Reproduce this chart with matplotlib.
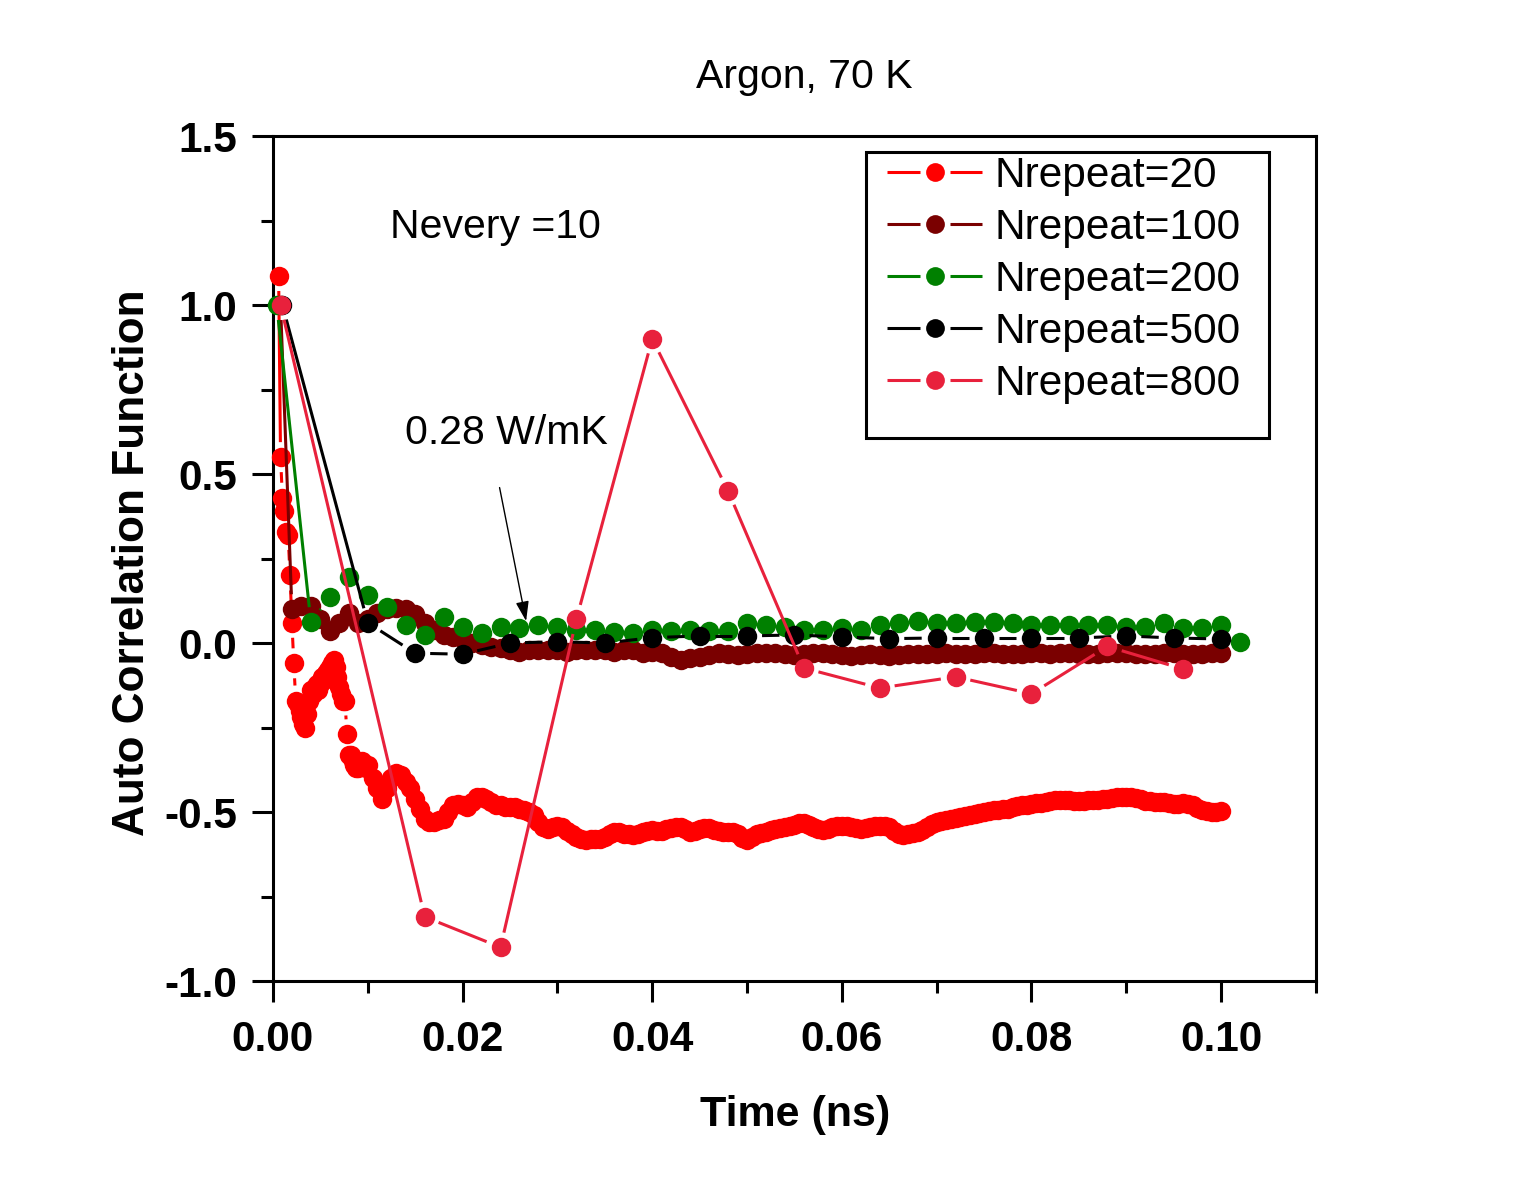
import numpy as np
import matplotlib
matplotlib.use("Agg")
import matplotlib.pyplot as plt
from matplotlib.lines import Line2D
from matplotlib.collections import LineCollection
from matplotlib.patches import Rectangle
from matplotlib.legend_handler import HandlerBase
from matplotlib.ticker import MultipleLocator, FormatStrFormatter

plt.rcParams['font.family'] = ['Liberation Sans', 'DejaVu Sans']
plt.rcParams['axes.unicode_minus'] = False

# ---------------- data ----------------
labels = ["Nrepeat=20", "Nrepeat=100", "Nrepeat=200", "Nrepeat=500", "Nrepeat=800"]
colors = ["#FF0000", "#7A0000", "#008000", "#000000", "#E8213C"]

# Nrepeat=20 : early part (fine sampling)
t20_early = [0.0006, 0.0008, 0.0010, 0.0012, 0.0014, 0.0016, 0.0018, 0.0020, 0.0022, 0.0024,
             0.0026, 0.0028, 0.0030, 0.0032, 0.0034, 0.0036, 0.0038, 0.0040, 0.0042, 0.0044,
             0.0046, 0.0048, 0.0050, 0.0052, 0.0054, 0.0056, 0.0058, 0.0060, 0.0062, 0.0064,
             0.0066, 0.0068, 0.0070, 0.0072, 0.0074, 0.0076, 0.0078, 0.0080, 0.0082, 0.0084,
             0.0086, 0.0088, 0.0090, 0.0092, 0.0094, 0.0096, 0.0098]
y20_early = [1.086, 0.55, 0.43, 0.39, 0.33, 0.32, 0.20, 0.06, -0.06, -0.17,
             -0.18, -0.20, -0.22, -0.24, -0.25, -0.21, -0.17, -0.14, -0.15, -0.13,
             -0.12, -0.14, -0.12, -0.10, -0.11, -0.09, -0.08, -0.07, -0.06, -0.05,
             -0.07, -0.10, -0.13, -0.15, -0.17, -0.17, -0.27, -0.33, -0.33, -0.35,
             -0.36, -0.37, -0.37, -0.36, -0.35, -0.36, -0.37]
# Nrepeat=20 : from 0.0100 ns, every 0.0005 ns
y20_late = [-0.36, -0.40, -0.43, -0.46, -0.43, -0.40, -0.385, -0.39, -0.41, -0.43,
            -0.46, -0.49, -0.52, -0.53, -0.53, -0.525, -0.52, -0.50, -0.48, -0.475,
            -0.48, -0.485, -0.47, -0.455, -0.455, -0.46, -0.47, -0.48, -0.48, -0.485,
            -0.485, -0.485, -0.49, -0.495, -0.50, -0.51, -0.53, -0.545, -0.55, -0.545,
            -0.54, -0.545, -0.555, -0.565, -0.575, -0.58, -0.583, -0.58, -0.58, -0.58,
            -0.575, -0.565, -0.56, -0.56, -0.565, -0.565, -0.568, -0.565, -0.56, -0.555,
            -0.553, -0.555, -0.556, -0.55, -0.546, -0.544, -0.544, -0.55, -0.558, -0.556,
            -0.55, -0.548, -0.548, -0.552, -0.556, -0.558, -0.56, -0.56, -0.565, -0.578,
            -0.583, -0.575, -0.565, -0.562, -0.558, -0.553, -0.55, -0.548, -0.543, -0.54,
            -0.537, -0.533, -0.533, -0.537, -0.545, -0.55, -0.553, -0.55, -0.545, -0.54,
            -0.54, -0.542, -0.545, -0.548, -0.55, -0.548, -0.545, -0.542, -0.54, -0.54,
            -0.545, -0.555, -0.565, -0.567, -0.565, -0.562, -0.56, -0.552, -0.543, -0.535,
            -0.53, -0.527, -0.524, -0.52, -0.518, -0.515, -0.513, -0.51, -0.505, -0.502,
            -0.50, -0.497, -0.495, -0.494, -0.492, -0.49, -0.486, -0.483, -0.48, -0.478,
            -0.475, -0.474, -0.472, -0.47, -0.467, -0.465, -0.464, -0.464, -0.465, -0.466,
            -0.466, -0.466, -0.465, -0.464, -0.464, -0.462, -0.46, -0.458, -0.456, -0.455,
            -0.455, -0.456, -0.458, -0.462, -0.466, -0.468, -0.47, -0.47, -0.47, -0.472,
            -0.475, -0.475, -0.474, -0.475, -0.48, -0.487, -0.493, -0.497, -0.50, -0.50,
            -0.498]
t20_late = np.round(0.0100 + 0.0005 * np.arange(len(y20_late)), 4)

# Nrepeat=100 : first point then every 0.001 ns from 0.002
t100_first, y100_first = 0.0008, 1.0
y100 = [0.10, 0.11, 0.11, 0.07, 0.035, 0.06, 0.09, 0.06, 0.07,
        0.09, 0.10, 0.105, 0.10, 0.085, 0.06, 0.04, 0.025, 0.018, 0.012,
        0.0, -0.006, -0.012, -0.015, -0.02, -0.027, -0.022, -0.02, -0.022, -0.02,
        -0.025, -0.022, -0.02, -0.02, -0.022, -0.025, -0.02, -0.022, -0.028, -0.027,
        -0.03, -0.04, -0.05, -0.045, -0.04, -0.035, -0.03, -0.032, -0.035, -0.032,
        -0.03, -0.028, -0.03, -0.032, -0.035, -0.032, -0.03, -0.03, -0.032, -0.035,
        -0.037, -0.035, -0.033, -0.035, -0.037, -0.035, -0.033, -0.032, -0.033, -0.032,
        -0.03, -0.032, -0.033, -0.032, -0.03, -0.03, -0.032, -0.033, -0.032, -0.03,
        -0.03, -0.032, -0.03, -0.03, -0.032, -0.033, -0.032, -0.03, -0.028, -0.03,
        -0.032, -0.033, -0.032, -0.03, -0.03, -0.032, -0.033, -0.032, -0.03, -0.03]
t100 = np.concatenate([[t100_first], np.round(0.002 + 0.001 * np.arange(len(y100)), 3)])
y100 = np.concatenate([[y100_first], y100])

# Nrepeat=200 : first point then every 0.002 ns from 0.004
t200_first, y200_first = 0.0004, 1.0
y200 = [0.062, 0.136, 0.195, 0.142, 0.107, 0.053, 0.024, 0.077, 0.047, 0.030,
        0.047, 0.046, 0.053, 0.047, 0.040, 0.038, 0.033, 0.030, 0.038, 0.035,
        0.038, 0.036, 0.036, 0.058, 0.053, 0.047, 0.040, 0.040, 0.044, 0.040,
        0.053, 0.059, 0.066, 0.059, 0.059, 0.062, 0.062, 0.059, 0.053, 0.053,
        0.053, 0.053, 0.053, 0.047, 0.047, 0.059, 0.044, 0.044, 0.053, 0.003]
t200 = np.concatenate([[t200_first], np.round(0.004 + 0.002 * np.arange(len(y200)), 3)])
y200 = np.concatenate([[y200_first], y200])

# Nrepeat=500 : first point then every 0.005 ns from 0.010
t500_first, y500_first = 0.001, 1.0
y500 = [0.06, -0.03, -0.033, 0.0, 0.004, 0.0, 0.016, 0.021, 0.021, 0.024,
        0.018, 0.013, 0.015, 0.015, 0.015, 0.015, 0.021, 0.015, 0.012]
t500 = np.concatenate([[t500_first], np.round(0.010 + 0.005 * np.arange(len(y500)), 3)])
y500 = np.concatenate([[y500_first], y500])

# Nrepeat=800 : first point then every 0.008 ns from 0.016
t800_first, y800_first = 0.0008, 1.0
y800 = [-0.81, -0.90, 0.07, 0.90, 0.45, -0.074, -0.133, -0.10, -0.15, -0.01, -0.077]
t800 = np.concatenate([[t800_first], np.round(0.016 + 0.008 * np.arange(len(y800)), 3)])
y800 = np.concatenate([[y800_first], y800])

t20 = np.concatenate([t20_early, t20_late])
y20 = np.concatenate([y20_early, y20_late])

series = [(t20, y20), (t100, y100), (t200, y200), (t500, y500), (t800, y800)]

# ---------------- figure ----------------
DPI = 100
fig = plt.figure(figsize=(15.3, 11.79), dpi=DPI)
ax = fig.add_axes([0.1784, 0.1679, 0.6817, 0.7167])
ax.set_xlim(0.0, 0.110)
ax.set_ylim(-1.0, 1.5)

GAP = 15.0   # px from marker centre to line start
MS = 14
LW = 2.2


def gapped_segments(x, y, gap):
    pts = ax.transData.transform(np.column_stack([x, y]))
    inv = ax.transData.inverted()
    segs = []
    for p, q in zip(pts[:-1], pts[1:]):
        d = q - p
        L = np.hypot(d[0], d[1])
        if L > 2 * gap:
            u = d / L
            segs.append(inv.transform(np.array([p + u * gap, q - u * gap])))
    return segs


for i, ((x, y), c) in enumerate(zip(series, colors)):
    z = 3 + i
    segs = gapped_segments(x, y, GAP)
    ax.add_collection(LineCollection(segs, colors=c, linewidths=LW, zorder=z, capstyle='butt'))
    ax.plot(x, y, linestyle='none', marker='o', ms=MS, mfc=c, mec=c, mew=0, zorder=z + 0.5,
            clip_on=False)

# ---------------- axes styling ----------------
for s in ax.spines.values():
    s.set_linewidth(2.2)
ax.xaxis.set_major_locator(MultipleLocator(0.02))
ax.xaxis.set_minor_locator(MultipleLocator(0.01))
ax.yaxis.set_major_locator(MultipleLocator(0.5))
ax.yaxis.set_minor_locator(MultipleLocator(0.25))
ax.xaxis.set_major_formatter(FormatStrFormatter('%.2f'))
ax.yaxis.set_major_formatter(FormatStrFormatter('%.1f'))
ax.tick_params(which='major', direction='out', length=15, width=2.2, labelsize=30.5, top=False, right=False)
ax.tick_params(which='minor', direction='out', length=8.5, width=2.2, top=False, right=False)
ax.tick_params(axis='x', which='major', pad=13)
ax.tick_params(axis='y', which='major', pad=11)
for lab in ax.get_xticklabels() + ax.get_yticklabels():
    lab.set_fontweight('bold')

fig.text(0.0865, 0.523, "Auto Correlation Function", rotation=90, fontsize=31.8,
         fontweight='bold', ha='center', va='center')
fig.text(0.52, 0.054, "Time (ns)", fontsize=31, fontweight='bold', ha='center', va='center')
fig.text(0.526, 0.935, "Argon, 70 K", fontsize=29.5, ha='center', va='center')

ax.text(0.01234, 1.231, "Nevery =10", fontsize=29.5, ha='left', va='center')
ax.text(0.01392, 0.621, "0.28 W/mK", fontsize=29.5, ha='left', va='center')
ax.annotate("", xy=(0.0267, 0.065), xytext=(0.0239, 0.46),
            arrowprops=dict(arrowstyle='-|>,head_length=1.2,head_width=0.4', color='black',
                            lw=1.0, shrinkA=0, shrinkB=0), zorder=20)


# ---------------- legend ----------------
class GapLineHandler(HandlerBase):
    """Origin-style legend sample: line - marker - line with gaps."""
    def create_artists(self, legend, orig_handle, xdescent, ydescent, width, height,
                       fontsize, trans):
        c = orig_handle.get_color()
        y = height / 2.0 - ydescent
        x0 = -xdescent
        x1 = x0 + width
        xc = 0.5 * (x0 + x1)
        g = 10.8  # points
        l1 = Line2D([x0, xc - g], [y, y], color=c, lw=LW, solid_capstyle='butt')
        l2 = Line2D([xc + g, x1], [y, y], color=c, lw=LW, solid_capstyle='butt')
        m = Line2D([xc], [y], linestyle='none', marker='o', ms=13.5, mfc=c, mec=c, mew=0)
        for a in (l1, l2, m):
            a.set_transform(trans)
        return [l1, l2, m]


handles = [Line2D([], [], color=c) for c in colors]
leg = ax.legend(handles, labels, loc='upper left', bbox_to_anchor=(0.5886, 0.9765),
                frameon=False, fontsize=30.5, handlelength=2.25, handletextpad=0.3,
                labelspacing=0.285, borderpad=0.0, borderaxespad=0.0,
                handler_map={Line2D: GapLineHandler()})
leg.set_zorder(30)
ax.add_patch(Rectangle((0.5686, 0.6426), 0.955 - 0.5686, 0.981 - 0.6426, transform=ax.transAxes,
                       fill=True, facecolor='white', edgecolor='black', lw=2.2, zorder=25))

fig.savefig("out.png", dpi=DPI)
